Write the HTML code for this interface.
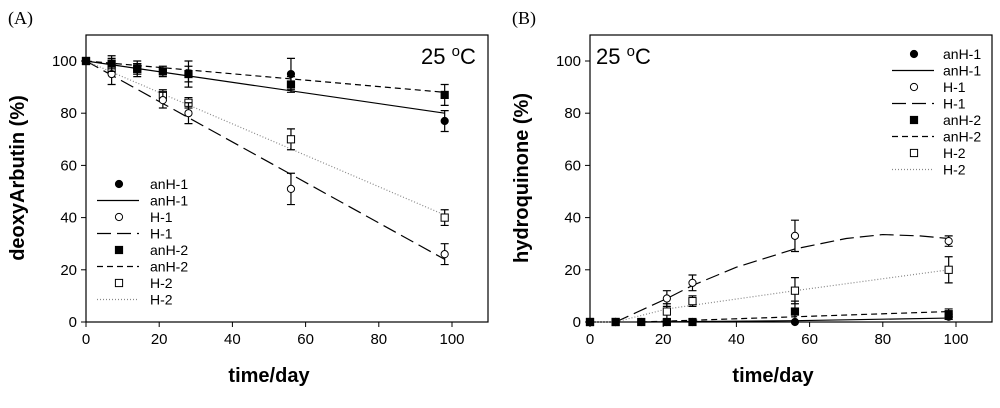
<!DOCTYPE html>
<html><head><meta charset="utf-8"><style>
body{margin:0;background:#fff;width:1000px;height:403px;overflow:hidden}
svg{font-family:"Liberation Sans",Arial,sans-serif}
</style></head><body>
<svg id="s" width="1000" height="403"></svg>
<script>
const days=[0,7,14,21,28,56,98];
const A_anH1=[100,99,97,96,95,95,77], A_anH1_err=[0,3,2,2,5,6,4];
const A_H1=[100,95,97,85,80,51,26], A_H1_err=[0,4,2,3,4,6,4];
const A_anH2=[100,99,97,96,95,91,87], A_anH2_err=[0,2,3,1,3,3,4];
const A_H2=[100,97,97,87,84,70,40], A_H2_err=[0,2,2,2,2,4,3];
const A_fitX=[0,98];
const A_fit_anH1=[100,80], A_fit_H1=[100,24], A_fit_anH2=[100,88], A_fit_H2=[100,41];
const B_anH1=[0,0,0,0,0,0,2], B_anH1_err=[0,0,0,0,0,0,1];
const B_H1=[0,0,null,9,15,33,31], B_H1_err=[0,0,0,3,3,6,2];
const B_anH2=[0,0,0,0,0,4,3], B_anH2_err=[0,0,0,0,0,4,2];
const B_H2=[0,0,null,4,8,12,20], B_H2_err=[0,0,0,3,2,5,5];
const B_fitX_H1=[7,21,28,40,56,70,80,90,98], B_fit_H1=[0,9,14,21,28,32,33.5,33,32];
const B_fitX_lin=[0,7,21,56,98], B_fit_H2=[0,0,5,12,20];
const B_fitX_an=[14,56,98], B_fit_anH2=[0,2,4], B_fit_anH1=[0,0.5,1.5];
const xTicks=[0,20,40,60,80,100], yTicks=[0,20,40,60,80,100];
const NS="http://www.w3.org/2000/svg", S=document.getElementById('s');
function el(t,a,p){const e=document.createElementNS(NS,t);for(const k in a)e.setAttribute(k,a[k]);(p||S).appendChild(e);return e;}
function panel(x0,name,ylab,label,tempX,tempY){
  const g=el('g',{});
  
  
  const X=d=>x0+d*3.66, Y=v=>322-v*2.61;
  const fr=el('rect',{x:x0,y:35,width:402,height:287,fill:'none',stroke:'#000','stroke-width':1.2},g);
  
  xTicks.forEach(t=>{el('line',{x1:X(t),x2:X(t),y1:322,y2:327,stroke:'#000'},g);
    const tx=el('text',{x:X(t),y:344,'text-anchor':'middle','font-size':15},g);tx.textContent=t;
    });
  yTicks.forEach(t=>{el('line',{x1:x0-5,x2:x0,y1:Y(t),y2:Y(t),stroke:'#000'},g);
    const tx=el('text',{x:x0-9,y:Y(t)+5,'text-anchor':'end','font-size':15},g);tx.textContent=t;
    });
  const xl=el('text',{x:x0+183,y:382,'text-anchor':'middle','font-size':20,'font-weight':'bold'},g);xl.textContent='time/day';
  
  const yl=el('text',{x:0,y:0,'text-anchor':'middle','font-size':20,'font-weight':'bold',transform:`translate(${x0-62},178) rotate(-90)`},g);yl.textContent=ylab;
  
  const pl=el('text',{x:x0-78,y:24,'font-size':18,'font-family':'Liberation Serif,serif'},g);pl.textContent=label;
  
  const tp=el('text',{x:tempX,y:tempY,'font-size':22},g);tp.innerHTML='25 <tspan dy="-8" font-size="15">o</tspan><tspan dy="8">C</tspan>';
  
  return {g,X,Y};
}
const dashes={solid:'',long:'14,6',short:'6,4',dot:'1,2'};
function line(P,xs,ys,d,nm){
  const p=el('polyline',{points:xs.map((x,i)=>P.X(x)+','+P.Y(ys[i])).join(' '),fill:'none',stroke:d=='dot'?'#888':'#000','stroke-width':1.2,'stroke-dasharray':dashes[d]},P.g);
  
}
function marker(g,x,y,shape,fill){
  const m=shape=='c'?el('circle',{cx:x,cy:y,r:3.6,fill:fill,stroke:'#000','stroke-width':1},g)
    :el('rect',{x:x-3.6,y:y-3.6,width:7.2,height:7.2,fill:fill,stroke:'#000','stroke-width':1},g);
  return m;
}
function pts(P,vals,errs,shape,fill,nm){
  vals.forEach((v,i)=>{if(v==null)return;const x=P.X(days[i]),y=P.Y(v);
    if(errs[i]>0){const e=el('path',{d:`M${x},${P.Y(v+errs[i])}V${P.Y(v-errs[i])}M${x-4},${P.Y(v+errs[i])}h8M${x-4},${P.Y(v-errs[i])}h8`,stroke:'#000','stroke-width':1.2,fill:'none'},P.g);
      }
    const m=marker(P.g,x,y,shape,fill);
    });
}
function legend(g,lx,ly,tx){
  const items=[['anH-1','c','#000'],['anH-1','solid'],['H-1','c','#fff'],['H-1','long'],['anH-2','s','#000'],['anH-2','short'],['H-2','s','#fff'],['H-2','dot']];
  items.forEach((it,i)=>{const y=ly+i*16.5;
    const lg=el('g',{},g);
    
    if(it.length==3)marker(lg,lx+22,y,it[1],it[2]);
    else el('line',{x1:lx,x2:lx+42,y1:y,y2:y,stroke:it[1]=='dot'?'#888':'#000','stroke-width':1.2,'stroke-dasharray':dashes[it[1]]},lg);
    const t=el('text',{x:tx,y:y+5,'font-size':14},lg);t.textContent=it[0];});
}
const A=panel(86,'panel-a','deoxyArbutin (%)','(A)',421,64);
line(A,A_fitX,A_fit_anH1,'solid','fit-anH-1');line(A,A_fitX,A_fit_H1,'long','fit-H-1');
line(A,A_fitX,A_fit_anH2,'short','fit-anH-2');line(A,A_fitX,A_fit_H2,'dot','fit-H-2');
pts(A,A_H2,A_H2_err,'s','#fff','H-2');pts(A,A_H1,A_H1_err,'c','#fff','H-1');
pts(A,A_anH1,A_anH1_err,'c','#000','anH-1');pts(A,A_anH2,A_anH2_err,'s','#000','anH-2');
legend(A.g,97,184,150);
const B=panel(590,'panel-b','hydroquinone (%)','(B)',596,64);
line(B,B_fitX_H1,B_fit_H1,'long','fit-H-1');line(B,B_fitX_lin,B_fit_H2,'dot','fit-H-2');
line(B,B_fitX_an,B_fit_anH2,'short','fit-anH-2');line(B,B_fitX_an,B_fit_anH1,'solid','fit-anH-1');
pts(B,B_H2,B_H2_err,'s','#fff','H-2');pts(B,B_H1,B_H1_err,'c','#fff','H-1');
pts(B,B_anH1,B_anH1_err,'c','#000','anH-1');pts(B,B_anH2,B_anH2_err,'s','#000','anH-2');
legend(B.g,892,54,943);
</script>
</body></html>
